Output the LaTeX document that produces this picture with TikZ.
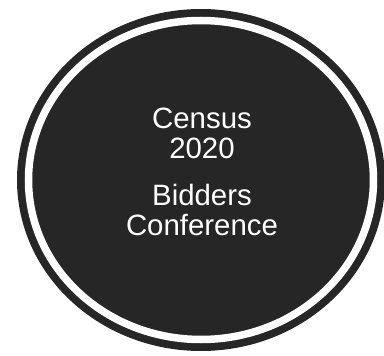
\documentclass[tikz,border=0pt]{standalone}
\usepackage{fontspec}
\setmainfont{Liberation Sans}
\usetikzlibrary{shapes.geometric}
\definecolor{disc}{HTML}{262626}
\tikzset{
 outerdisc/.style={ellipse,fill=disc,draw=none,minimum width=368pt,minimum height=342pt,inner sep=0pt},
 innerring/.style={ellipse,draw=white,line width=7.5pt,fill=disc,minimum width=345pt,minimum height=319pt,inner sep=0pt},
 lbl/.style={text=white,font=\fontsize{29.4}{30}\selectfont,align=center,inner sep=0pt}
}
\begin{document}
\begin{tikzpicture}[x=1pt,y=-1pt]
\useasboundingbox (0,0) rectangle (384,356);
\node[outerdisc] (outer) at (201,180) {};
\node[innerring] (inner) at (201,180) {};
\node[lbl] (a) at (202,133) {Census\\2020};
\node[lbl] (b) at (202,210) {Bidders\\Conference};
\end{tikzpicture}
\end{document}
